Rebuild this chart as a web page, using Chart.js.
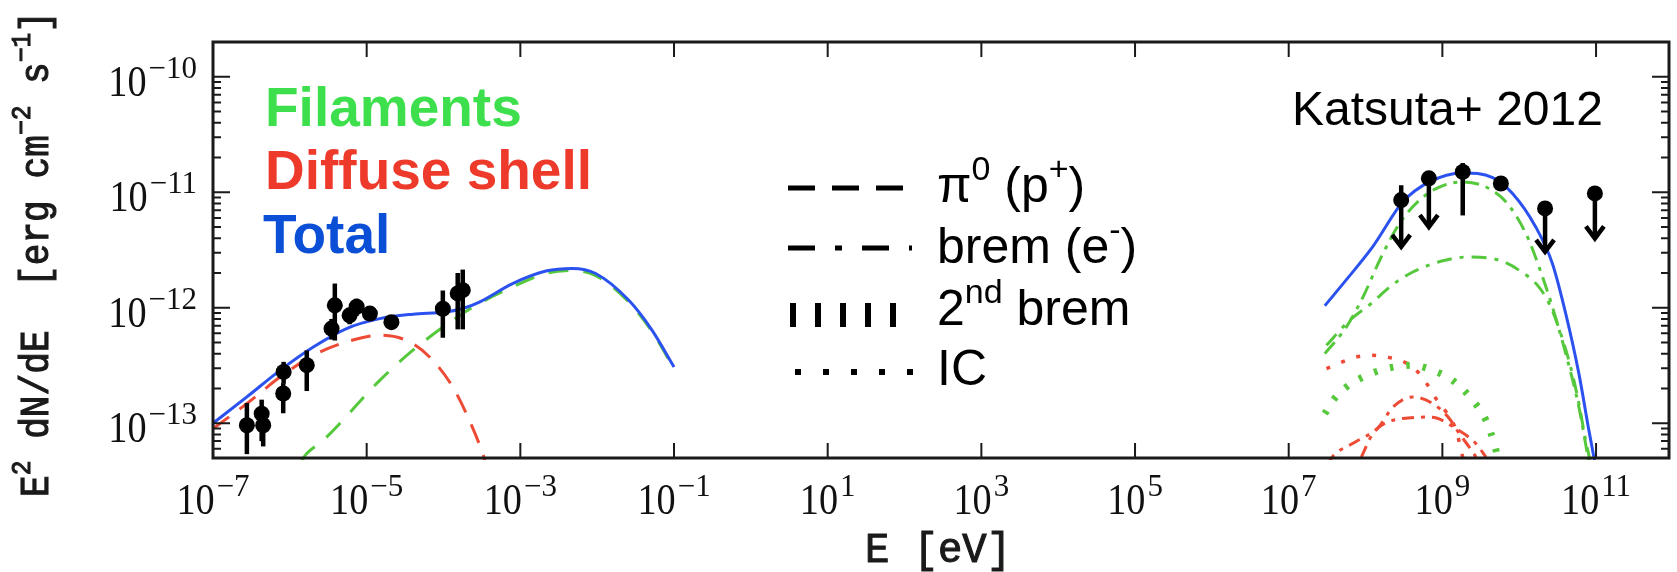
<!DOCTYPE html>
<html>
<head>
<meta charset="utf-8">
<script src="https://cdn.jsdelivr.net/npm/chart.js@4.4.1/dist/chart.umd.min.js"></script>
<style>
html, body { margin: 0; padding: 0; background: #fff; }
</style>
</head>
<body>
<canvas id="sed_graph" width="1677" height="572"></canvas>
<script>
// radio / X-ray data points [eV], [erg cm-2 s-1]
const radioE  = [2.76e-7, 4.3e-7, 4.5e-7, 8.3e-7, 8.2e-7, 1.66e-6, 3.49e-6, 3.85e-6, 6.0e-6, 7.4e-6, 1.1e-5, 2.1e-5, 9.8e-5, 1.53e-4, 1.78e-4];
const radioF  = [9.6e-14, 1.21e-13, 9.6e-14, 2.78e-13, 1.81e-13, 3.18e-13, 6.6e-13, 1.05e-12, 8.6e-13, 1.02e-12, 8.9e-13, 7.5e-13, 9.8e-13, 1.33e-12, 1.42e-12];
const radioLo = [5.4e-14, 7.0e-14, 6.3e-14, 2.2e-13, 1.22e-13, 1.9e-13, 5.3e-13, 5.2e-13, 7.2e-13, 8.5e-13, 7.8e-13, 6.6e-13, 5.5e-13, 6.5e-13, 6.5e-13];
const radioHi = [1.5e-13, 1.6e-13, 1.3e-13, 3.4e-13, 2.22e-13, 4.27e-13, 8.0e-13, 1.62e-12, 1.0e-12, 1.2e-12, 1.0e-12, 8.6e-13, 1.41e-12, 2.0e-12, 2.14e-12];

// Fermi-LAT points, upper limits end at gammaTip
const gammaE   = [2.91e8, 6.67e8, 1.84e9, 5.77e9, 2.17e10, 9.66e10];
const gammaF   = [8.55e-12, 1.32e-11, 1.50e-11, 1.19e-11, 7.24e-12, 9.77e-12];
const gammaHi  = [1.15e-11, 1.47e-11, 1.79e-11, null, null, null];
const gammaLo  = [null, null, 6.3e-12, null, null, null];
const gammaTip = [3.37e-12, 5.0e-12, null, null, 3.05e-12, 3.98e-12];

// model curves
const totalRadioE = [1e-7, 2.76e-7, 7.46e-7, 2.02e-6, 5.47e-6, 1.48e-5, 4.0e-5, 1.08e-4, 1.78e-4, 2.93e-4, 7.92e-4, 2.15e-3, 4.75e-3, 9.55e-3, 2.58e-2, 5.19e-2, 0.1];
const totalRadioF = [1.0e-13, 1.69e-13, 2.87e-13, 4.57e-13, 6.61e-13, 8.05e-13, 8.79e-13, 9.2e-13, 9.84e-13, 1.12e-12, 1.62e-12, 2.08e-12, 2.19e-12, 1.98e-12, 1.16e-12, 6.38e-13, 3.07e-13];
const shellSyncE = [1e-7, 2.76e-7, 7.46e-7, 2.02e-6, 5.47e-6, 1.48e-5, 3.28e-5, 6.58e-5, 1.32e-4, 2.17e-4, 3.24e-4, 3.55e-4];
const shellSyncF = [8.97e-14, 1.48e-13, 2.51e-13, 3.87e-13, 5.06e-13, 5.78e-13, 5.22e-13, 3.75e-13, 2.06e-13, 1.06e-13, 5.46e-14, 4.47e-14];
const filSyncE = [1.41e-6, 1.66e-6, 2.72e-6, 1.48e-5, 4.0e-5, 1.32e-4, 2.93e-4, 7.18e-4, 2.15e-3, 4.75e-3, 9.55e-3, 2.58e-2, 5.19e-2, 0.1];
const filSyncF = [4.68e-14, 5.46e-14, 7.11e-14, 2.35e-13, 4.29e-13, 7.8e-13, 1.09e-12, 1.47e-12, 1.98e-12, 2.1e-12, 1.9e-12, 1.12e-12, 6.2e-13, 2.98e-13];

const totalGammaE = [2.95e7, 5.64e7, 1.25e8, 3.06e8, 6.78e8, 1.84e9, 4.51e9, 8.18e9, 1.64e10, 2.70e10, 4.03e10, 5.98e10, 8.07e10, 9.77e10];
const totalGammaF = [1.04e-12, 1.75e-12, 3.4e-12, 8.26e-12, 1.23e-11, 1.47e-11, 1.34e-11, 9.77e-12, 5.01e-12, 2.42e-12, 8.91e-13, 2.69e-13, 8.67e-14, 4.4e-14];
const filBremE = [2.95e7, 5.64e7, 9.27e7, 1.60e8, 2.77e8, 5.04e8, 9.14e8, 1.84e9, 3.69e9, 6.70e9, 1.22e10, 1.81e10, 2.70e10, 4.03e10, 5.98e10, 7.69e10, 8.13e10];
const filBremF = [4.01e-13, 6.82e-13, 1.24e-12, 2.75e-12, 5.37e-12, 8.55e-12, 1.11e-11, 1.23e-11, 1.11e-11, 8.26e-12, 4.40e-12, 2.26e-12, 1.02e-12, 4.01e-13, 1.38e-13, 5.46e-14, 4.37e-14];
const filPionE = [3.10e7, 6.22e7, 1.19e8, 2.16e8, 4.13e8, 1.01e9, 2.13e9, 5.48e9, 9.98e9, 1.81e10, 2.57e10, 3.47e10, 4.67e10, 5.98e10, 7.31e10, 8.07e10, 8.51e10];
const filPionF = [4.73e-13, 7.80e-13, 1.09e-12, 1.55e-12, 2.04e-12, 2.55e-12, 2.75e-12, 2.58e-12, 2.11e-12, 1.51e-12, 1.02e-12, 5.97e-13, 3.07e-13, 1.48e-13, 7.11e-14, 5.27e-14, 4.37e-14];
const filBrem2E = [2.95e7, 3.78e7, 5.64e7, 9.27e7, 1.86e8, 4.13e8, 7.50e8, 1.36e9, 2.48e9, 3.69e9, 4.73e9, 5.24e9, 5.5e9];
const filBrem2F = [1.21e-13, 1.58e-13, 2.06e-13, 2.51e-13, 2.97e-13, 3.18e-13, 2.87e-13, 2.35e-13, 1.58e-13, 1.06e-13, 6.65e-14, 5.09e-14, 4.37e-14];
const shellIcE = [3.10e7, 7.60e7, 1.25e8, 2.06e8, 3.38e8, 4.80e8, 6.46e8, 8.28e8, 1.12e9, 1.51e9, 1.84e9, 1.95e9];
const shellIcF = [2.97e-13, 3.75e-13, 3.87e-13, 3.70e-13, 3.33e-13, 2.78e-13, 2.13e-13, 1.63e-13, 1.25e-13, 8.67e-14, 5.09e-14, 4.37e-14];
const shellBremE = [3.16e7, 3.85e7, 7.36e7, 1.48e8, 2.27e8, 4.13e8, 7.50e8, 1.23e9, 1.66e9, 2.24e9, 2.74e9];
const shellBremF = [4.37e-14, 5.27e-14, 6.87e-14, 9.27e-14, 1.38e-13, 1.69e-13, 1.48e-13, 1.10e-13, 8.13e-14, 6.22e-14, 5.09e-14];
const shellPionE = [8.81e7, 1.25e8, 3.06e8, 7.13e8, 1.51e9, 2.74e9, 3.69e9];
const shellPionF = [5.09e-14, 8.13e-14, 1.10e-13, 1.13e-13, 8.97e-14, 6.65e-14, 5.09e-14];

// axes
const xMin = 1e-7, xMax = 8.9e11;
const yMin = 5e-14, yMax = 2e-10;
const xTickExp = [-7, -5, -3, -1, 1, 3, 5, 7, 9, 11];
const yTickExp = [-13, -12, -11, -10];

const blue = '#2b52ee', red = '#ee4b36', green = '#55c83c';

function pts(xs, ys) {
    return xs.map(function (x, i) { return { x: x, y: ys[i] }; });
}

function curve(xs, ys, color, dash, width, order) {
    return {
        data: pts(xs, ys),
        borderColor: color,
        borderWidth: width || 3,
        borderDash: dash || [],
        borderCapStyle: 'butt',
        pointRadius: 0,
        fill: false,
        cubicInterpolationMode: 'monotone',
        clip: 2,
        order: order || 5
    };
}

function dots(xs, ys) {
    return {
        data: pts(xs, ys),
        showLine: false,
        pointRadius: 8,
        pointHoverRadius: 8,
        backgroundColor: '#000',
        borderWidth: 0,
        order: 0
    };
}

// "10" with exponent; y is the baseline of "10"
function powLabel(ctx, exp, x, y, align) {
    ctx.font = '45px "Liberation Serif"';
    const wb = ctx.measureText('10').width * 0.85;
    ctx.font = '31px "Liberation Serif"';
    const we = ctx.measureText(exp).width;
    const total = wb + 2 + we;
    const x0 = align === 'right' ? x - total : x - total / 2;
    ctx.save();
    ctx.translate(x0, y);
    ctx.scale(0.85, 1);
    ctx.font = '45px "Liberation Serif"';
    ctx.fillText('10', 0, 0);
    ctx.restore();
    ctx.font = '31px "Liberation Serif"';
    ctx.fillText(exp, x0 + wb + 2, y - 18);
}

function richText(ctx, parts, x, y, size, family, weight, stroke) {
    parts.forEach(function (p) {
        const s = p[1] ? size * 0.68 : size;
        ctx.font = (weight || '') + ' ' + s + 'px ' + family;
        const yy = p[1] ? y - size * 0.45 : y;
        ctx.fillText(p[0], x, yy);
        if (stroke) ctx.strokeText(p[0], x, yy);
        x += ctx.measureText(p[0]).width;
    });
    return x;
}

function richWidth(ctx, parts, size, family, weight) {
    let w = 0;
    parts.forEach(function (p) {
        ctx.font = (weight || '') + ' ' + (p[1] ? size * 0.68 : size) + 'px ' + family;
        w += ctx.measureText(p[0]).width;
    });
    return w;
}

// typewriter title squeezed to a given length along its baseline
function fitTitle(ctx, parts, cx, cy, size, len, angle) {
    const mono = '"Liberation Mono"';
    const w = richWidth(ctx, parts, size, mono);
    ctx.save();
    ctx.translate(cx, cy);
    ctx.rotate(angle);
    ctx.scale(len / w, 1);
    ctx.strokeStyle = ctx.fillStyle;
    ctx.lineWidth = 1.1;
    richText(ctx, parts, -w / 2, 0, size, mono, '', true);
    ctx.restore();
}

const sedDecor = {
    id: 'sedDecor',
    afterDatasetsDraw(chart) {
        const ctx = chart.ctx;
        const sx = chart.scales.x, sy = chart.scales.y;
        ctx.save();
        ctx.strokeStyle = '#000';
        ctx.lineWidth = 4.5;
        ctx.lineCap = 'butt';
        radioE.forEach(function (e, i) {
            const px = sx.getPixelForValue(e);
            ctx.beginPath();
            ctx.moveTo(px, sy.getPixelForValue(radioLo[i]));
            ctx.lineTo(px, sy.getPixelForValue(radioHi[i]));
            ctx.stroke();
        });
        gammaE.forEach(function (e, i) {
            const px = sx.getPixelForValue(e);
            const py = sy.getPixelForValue(gammaF[i]);
            if (gammaHi[i]) {
                ctx.beginPath();
                ctx.moveTo(px, py);
                ctx.lineTo(px, sy.getPixelForValue(gammaHi[i]));
                ctx.stroke();
            }
            if (gammaLo[i]) {
                ctx.beginPath();
                ctx.moveTo(px, py);
                ctx.lineTo(px, sy.getPixelForValue(gammaLo[i]));
                ctx.stroke();
            }
            if (gammaTip[i]) {
                const ty = sy.getPixelForValue(gammaTip[i]);
                ctx.beginPath();
                ctx.moveTo(px, py);
                ctx.lineTo(px, ty);
                ctx.stroke();
                ctx.beginPath();
                ctx.moveTo(px - 9, ty - 12);
                ctx.lineTo(px, ty);
                ctx.lineTo(px + 9, ty - 12);
                ctx.stroke();
            }
        });
        ctx.restore();
    },
    afterDraw(chart) {
        const ctx = chart.ctx;
        const a = chart.chartArea;
        const sx = chart.scales.x, sy = chart.scales.y;
        ctx.save();
        ctx.fillStyle = '#111';
        ctx.strokeStyle = '#1a1a1a';

        // ticks, pointing inwards on all four sides
        ctx.lineWidth = 2;
        ctx.beginPath();
        xTickExp.forEach(function (n) {
            const px = sx.getPixelForValue(Math.pow(10, n));
            ctx.moveTo(px, a.bottom);
            ctx.lineTo(px, a.bottom - 15);
            ctx.moveTo(px, a.top);
            ctx.lineTo(px, a.top + 15);
        });
        for (let n = -14; n <= -10; n++) {
            for (let k = 1; k <= 9; k++) {
                const v = k * Math.pow(10, n);
                if (v < yMin || v > yMax) continue;
                const py = sy.getPixelForValue(v);
                const len = k === 1 ? 17 : 8;
                ctx.moveTo(a.left, py);
                ctx.lineTo(a.left + len, py);
                ctx.moveTo(a.right, py);
                ctx.lineTo(a.right - len, py);
            }
        }
        ctx.stroke();

        ctx.lineWidth = 3;
        ctx.strokeRect(a.left, a.top, a.right - a.left, a.bottom - a.top);

        // tick labels
        ctx.textAlign = 'left';
        ctx.textBaseline = 'alphabetic';
        xTickExp.forEach(function (n) {
            const px = sx.getPixelForValue(Math.pow(10, n));
            powLabel(ctx, String(n).replace('-', '\u2212'), px, 514, 'center');
        });
        yTickExp.forEach(function (n) {
            const py = sy.getPixelForValue(Math.pow(10, n));
            powLabel(ctx, String(n).replace('-', '\u2212'), 197, py + 19, 'right');
        });

        // axis titles
        ctx.fillStyle = '#1a1a1a';
        fitTitle(ctx, [['E [eV]', 0]], 938, 562, 42, 146, 0);
        fitTitle(ctx, [['E', 0], ['2', 1], [' dN/dE  [erg cm', 0], ['\u22122', 1], [' s', 0], ['\u22121', 1], [']', 0]],
            48, 254, 40, 486, -Math.PI / 2);

        // component labels
        ctx.font = 'bold 55px "Liberation Sans"';
        ctx.fillStyle = '#3ddf4c';
        ctx.fillText('Filaments', 265, 126);
        ctx.fillStyle = '#ee3a2a';
        ctx.fillText('Diffuse shell', 265, 189);
        ctx.fillStyle = '#0a4fd6';
        ctx.fillText('Total', 263, 253);

        ctx.fillStyle = '#000';
        ctx.font = '48px "Liberation Sans"';
        ctx.fillText('Katsuta+ 2012', 1292, 125);

        // line style key
        const sans = '"Liberation Sans"';
        ctx.strokeStyle = '#000';
        ctx.lineCap = 'butt';
        ctx.lineWidth = 5;
        ctx.setLineDash([27, 17]);
        ctx.beginPath(); ctx.moveTo(788, 188); ctx.lineTo(908, 188); ctx.stroke();
        ctx.setLineDash([27, 20, 7, 20]);
        ctx.beginPath(); ctx.moveTo(788, 248); ctx.lineTo(912, 248); ctx.stroke();
        ctx.lineWidth = 24;
        ctx.setLineDash([6, 19]);
        ctx.beginPath(); ctx.moveTo(790, 315); ctx.lineTo(897, 315); ctx.stroke();
        ctx.lineWidth = 6;
        ctx.setLineDash([6, 22]);
        ctx.beginPath(); ctx.moveTo(795, 372); ctx.lineTo(913, 372); ctx.stroke();
        ctx.setLineDash([]);

        ctx.fillStyle = '#000';
        richText(ctx, [['\u03c0', 0], ['0', 1], [' (p', 0], ['+', 1], [')', 0]], 937, 202, 50, sans);
        richText(ctx, [['brem (e', 0], ['-', 1], [')', 0]], 937, 263, 50, sans);
        richText(ctx, [['2', 0], ['nd', 1], [' brem', 0]], 937, 325, 50, sans);
        richText(ctx, [['IC', 0]], 937, 385, 50, sans);
        ctx.restore();
    }
};

new Chart(document.getElementById('sed_graph'), {
    type: 'line',
    data: {
        datasets: [
            dots(radioE, radioF),
            dots(gammaE, gammaF),
            curve(totalRadioE, totalRadioF, blue, [], 3, 1),
            curve(totalGammaE, totalGammaF, blue, [], 3, 1),
            curve(shellSyncE, shellSyncF, red, [20, 13], 3, 3),
            curve(filSyncE, filSyncF, green, [20, 15], 3, 3),
            curve(filBremE, filBremF, green, [15, 7, 4, 7], 3, 2),
            curve(filPionE, filPionF, green, [15, 8, 4, 8], 3, 2),
            curve(filBrem2E, filBrem2F, green, [3.5, 13], 7, 2),
            curve(shellIcE, shellIcF, red, [4, 12], 3.5, 3),
            curve(shellBremE, shellBremF, red, [12, 7, 4, 7], 3, 3),
            curve(shellPionE, shellPionF, red, [12, 7, 4, 7], 3, 3)
        ]
    },
    options: {
        responsive: false,
        animation: false,
        events: [],
        layout: { padding: { left: 213, right: 3, top: 42, bottom: 114 } },
        plugins: { legend: { display: false }, tooltip: { enabled: false } },
        scales: {
            x: { type: 'logarithmic', min: xMin, max: xMax, display: false },
            y: { type: 'logarithmic', min: yMin, max: yMax, display: false }
        }
    },
    plugins: [sedDecor]
});
</script>
</body>
</html>
